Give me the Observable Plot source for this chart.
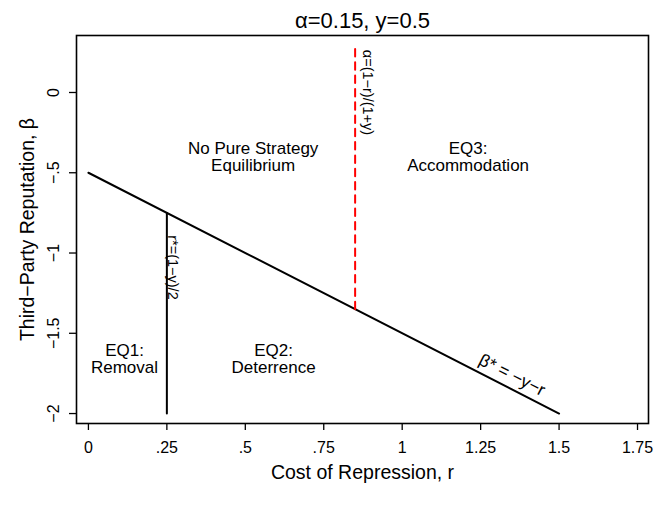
<!DOCTYPE html>
<html>
<head>
<meta charset="utf-8">
<script src="https://cdn.jsdelivr.net/npm/d3@7"></script>
<script src="https://cdn.jsdelivr.net/npm/@observablehq/plot@0.6"></script>
<style>
  html, body { margin: 0; padding: 0; background: #fff; }
</style>
</head>
<body>
<div id="chart"></div>
<script>
// ---- data ----
const titleText = "α=0.15, y=0.5";
const xTitle = "Cost of Repression, r";
const yTitle = "Third−Party Reputation, β";

const xTicks = [0, 0.25, 0.5, 0.75, 1, 1.25, 1.5, 1.75];
const xTickLabels = ["0", ".25", ".5", ".75", "1", "1.25", "1.5", "1.75"];
const yTicks = [0, -0.5, -1, -1.5, -2];
const yTickLabels = ["0", "−.5", "−1", "−1.5", "−2"];

// beta* = -y - r
const betaR = [0, 1.5];
const betaB = [-0.5, -2];
// r* = (1-y)/2
const rStarR = [0.25, 0.25];
const rStarB = [-0.75, -2];
// alpha = (1-r)/(1+y)  ->  r = 0.85
const alphaR = [0.85, 0.85];
const alphaB = [-1.35, 0.28];

const regionText = ["No Pure Strategy\nEquilibrium", "EQ3:\nAccommodation", "EQ1:\nRemoval", "EQ2:\nDeterrence"];
const regionR = [0.525, 1.21, 0.115, 0.59];
const regionB = [-0.405, -0.405, -1.66, -1.66];

const curveText = ["α=(1−r)/(1+y)", "r*=(1−y)/2"];
const curveR = [0.889, 0.268];
const curveB = [0.0, -1.09];

const slopeText = ["β* = −y−r"];
const slopeR = [1.35];
const slopeB = [-1.76];

// ---- build tables ----
const toPts = (rs, bs) => rs.map((r, i) => ({r, b: bs[i]}));
const betaLine = toPts(betaR, betaB);
const rStarLine = toPts(rStarR, rStarB);
const alphaLine = toPts(alphaR, alphaB);
const regions = regionText.map((t, i) => ({t, r: regionR[i], b: regionB[i]}));
const curves = curveText.map((t, i) => ({t, r: curveR[i], b: curveB[i]}));
const slopes = slopeText.map((t, i) => ({t, r: slopeR[i], b: slopeB[i]}));

const font = "'Liberation Sans', Arial, Helvetica, sans-serif";
const c = {fill: "#000", textAnchor: "middle", lineAnchor: "middle"};

const chart = Plot.plot({
  width: 665,
  height: 505,
  marginLeft: 76,
  marginRight: 17,
  marginTop: 35,
  marginBottom: 82,
  style: {fontFamily: font, background: "#fff", color: "#000"},
  x: {domain: [-0.038, 1.785], axis: null},
  y: {domain: [-2.062, 0.355], axis: null},
  marks: [
    Plot.axisX(xTicks, {tickSize: 7, tickFormat: () => "", label: null, strokeWidth: 1.3}),
    Plot.axisY(yTicks, {tickSize: 7, tickFormat: () => "", label: null, strokeWidth: 1.3}),
    Plot.text(xTicks, {...c, x: d => d, frameAnchor: "bottom", dy: 24, text: (d, i) => xTickLabels[i], fontSize: 16}),
    Plot.text(yTicks, {...c, y: d => d, frameAnchor: "left", dx: -23, rotate: -90, text: (d, i) => yTickLabels[i], fontSize: 16}),
    Plot.text([titleText], {...c, frameAnchor: "top", dy: -15, text: d => d, fontSize: 22}),
    Plot.text([xTitle], {...c, frameAnchor: "bottom", dy: 49, text: d => d, fontSize: 19.5}),
    Plot.text([yTitle], {...c, frameAnchor: "left", dx: -49, rotate: -90, text: d => d, fontSize: 19.5}),
    Plot.line(betaLine, {x: "r", y: "b", stroke: "#000", strokeWidth: 2}),
    Plot.line(rStarLine, {x: "r", y: "b", stroke: "#000", strokeWidth: 2}),
    Plot.line(alphaLine, {x: "r", y: "b", stroke: "#ff0000", strokeWidth: 2, strokeDasharray: "7.5,5.8"}),
    Plot.text(regions, {...c, x: "r", y: "b", text: "t", fontSize: 17, lineHeight: 1.0}),
    Plot.text(curves, {...c, x: "r", y: "b", text: "t", fontSize: 14.5, rotate: 90}),
    Plot.text(slopes, {...c, x: "r", y: "b", text: "t", fontSize: 17.5, rotate: 27}),
    Plot.frame({stroke: "#000", strokeWidth: 1.6})
  ]
});
document.getElementById("chart").appendChild(chart);
</script>
</body>
</html>
